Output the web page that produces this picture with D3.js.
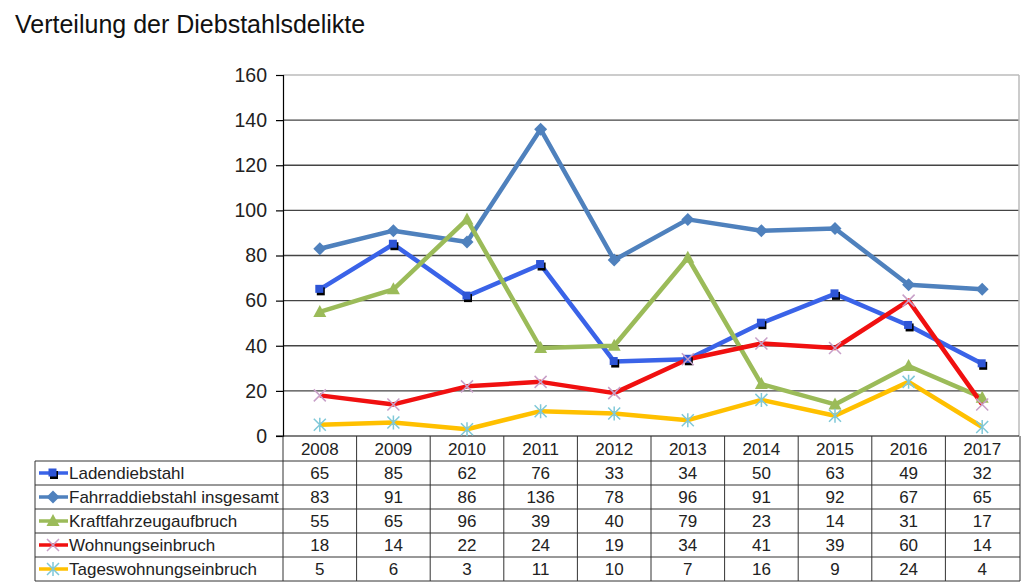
<!DOCTYPE html>
<html><head><meta charset="utf-8">
<script src="https://cdn.jsdelivr.net/npm/d3@7"></script>
<style>body{margin:0;background:#fff;}svg{display:block;font-family:"Liberation Sans",Arial,sans-serif;}</style>
</head><body><svg id="c" width="1024" height="585"></svg>
<script>
const years = ["2008","2009","2010","2011","2012","2013","2014","2015","2016","2017"];
const seriesNames = ["Ladendiebstahl","Fahrraddiebstahl insgesamt","Kraftfahrzeugaufbruch","Wohnungseinbruch","Tageswohnungseinbruch"];
const laden = [65,85,62,76,33,34,50,63,49,32];
const fahrrad = [83,91,86,136,78,96,91,92,67,65];
const kfz = [55,65,96,39,40,79,23,14,31,17];
const wohnung = [18,14,22,24,19,34,41,39,60,14];
const tages = [5,6,3,11,10,7,16,9,24,4];
const yTicks = [0,20,40,60,80,100,120,140,160];

const series = [
  {name:seriesNames[0], values:laden, color:"#3A63E8", marker:"square", mcolor:"#2E55D6"},
  {name:seriesNames[1], values:fahrrad, color:"#4F81BD", marker:"diamond", mcolor:"#4F81BD"},
  {name:seriesNames[2], values:kfz, color:"#9BBB59", marker:"triangle", mcolor:"#9BBB59"},
  {name:seriesNames[3], values:wohnung, color:"#F01010", marker:"x", mcolor:"#C8A0C8"},
  {name:seriesNames[4], values:tages, color:"#FFC000", marker:"star", mcolor:"#7FC8D8"}
];

const svg = d3.select("#c");
const L=283, R=1019, T=75, B=436;
const x = d3.scaleBand().domain(years).range([L,R]);
const y = d3.scaleLinear().domain([0,160]).range([B,T]);

svg.append("text").attr("x",15).attr("y",33).attr("font-size",25).attr("fill","#111").text("Verteilung der Diebstahlsdelikte");

// gridlines
svg.append("g").selectAll("line").data(yTicks.filter(d=>d>0&&d<160)).join("line")
  .attr("x1",L).attr("x2",R).attr("y1",d=>y(d)).attr("y2",d=>y(d))
  .attr("stroke","#444").attr("stroke-width",1.3);
// plot border top/right
svg.append("line").attr("x1",L).attr("x2",R).attr("y1",y(160)).attr("y2",y(160)).attr("stroke","#bbb").attr("stroke-width",1.5);
svg.append("line").attr("x1",R).attr("x2",R).attr("y1",T).attr("y2",B).attr("stroke","#bbb").attr("stroke-width",1.5);

// y axis
const yAxis = d3.axisLeft(y).tickValues(yTicks).tickSize(7).tickPadding(9);
const gy = svg.append("g").attr("transform",`translate(${L},0)`).call(yAxis);
gy.select(".domain").attr("stroke","#000").attr("stroke-width",1.2);
gy.selectAll(".tick line").attr("stroke","#000").attr("stroke-width",1.2);
gy.selectAll(".tick text").attr("font-size",19.5).attr("fill","#222").attr("font-family","Liberation Sans, Arial, sans-serif");
// x axis line
svg.append("line").attr("x1",L-7).attr("x2",R).attr("y1",B).attr("y2",B).attr("stroke","#000").attr("stroke-width",1.2);

// lines
const line = d3.line().x((d,i)=>x(years[i])+x.bandwidth()/2).y(d=>y(d));
const gl = svg.append("g");
series.forEach(s=>{
  gl.append("path").datum(s.values).attr("d",line).attr("fill","none").attr("stroke",s.color).attr("stroke-width",4.5).attr("stroke-linejoin","round");
});
function drawMarker(g,type,cx,cy,color){
  if(type==="square"){
    g.append("rect").attr("x",cx-3).attr("y",cy-2).attr("width",8).attr("height",8).attr("fill","#000");
    g.append("rect").attr("x",cx-4.5).attr("y",cy-4.5).attr("width",8).attr("height",8).attr("fill",color);
  } else if(type==="diamond"){
    g.append("path").attr("d",`M${cx},${cy-6.5}L${cx+6.5},${cy}L${cx},${cy+6.5}L${cx-6.5},${cy}Z`).attr("fill",color);
  } else if(type==="triangle"){
    g.append("path").attr("d",`M${cx},${cy-7}L${cx+6.5},${cy+5}L${cx-6.5},${cy+5}Z`).attr("fill",color);
  } else if(type==="x"){
    g.append("path").attr("d",`M${cx-6},${cy-6}L${cx+6},${cy+6}M${cx+6},${cy-6}L${cx-6},${cy+6}`).attr("stroke",color).attr("stroke-width",1.5);
  } else if(type==="star"){
    g.append("path").attr("d",`M${cx-6},${cy-6}L${cx+6},${cy+6}M${cx+6},${cy-6}L${cx-6},${cy+6}M${cx},${cy-7}L${cx},${cy+7}`).attr("stroke",color).attr("stroke-width",1.5);
  }
}
series.forEach(s=>{
  const g = svg.append("g");
  s.values.forEach((v,i)=>drawMarker(g,s.marker,x(years[i])+x.bandwidth()/2,y(v),s.mcolor));
});

// data table
const rowH = 24, headerBottom = 461, tableLeft = 35;
const tg = svg.append("g").attr("font-size",17).attr("fill","#222");
years.forEach(yr=>{
  tg.append("text").attr("x",x(yr)+x.bandwidth()/2).attr("y",B+19).attr("text-anchor","middle").text(yr);
});
years.forEach((yr,i)=>{
  if(i>0) tg.append("line").attr("x1",x(yr)).attr("x2",x(yr)).attr("y1",B).attr("y2",headerBottom+rowH*5).attr("stroke","#333");
});
tg.append("line").attr("x1",L).attr("x2",L).attr("y1",B).attr("y2",headerBottom+rowH*5).attr("stroke","#333");
tg.append("line").attr("x1",R+1).attr("x2",R+1).attr("y1",B).attr("y2",headerBottom+rowH*5).attr("stroke","#333");
tg.append("line").attr("x1",tableLeft).attr("x2",tableLeft).attr("y1",headerBottom).attr("y2",headerBottom+rowH*5).attr("stroke","#333");
for(let r=0;r<=5;r++){
  tg.append("line").attr("x1",tableLeft).attr("x2",R+1).attr("y1",headerBottom+r*rowH).attr("y2",headerBottom+r*rowH).attr("stroke","#333");
}
series.forEach((s,r)=>{
  const cy = headerBottom + r*rowH + rowH/2;
  tg.append("line").attr("x1",39).attr("x2",68).attr("y1",cy).attr("y2",cy).attr("stroke",s.color).attr("stroke-width",3.5);
  drawMarker(tg,s.marker,53,cy,s.mcolor);
  tg.append("text").attr("x",69).attr("y",cy+6).text(s.name);
  s.values.forEach((v,i)=>{
    tg.append("text").attr("x",x(years[i])+x.bandwidth()/2).attr("y",cy+6).attr("text-anchor","middle").text(v);
  });
});
</script></body></html>
